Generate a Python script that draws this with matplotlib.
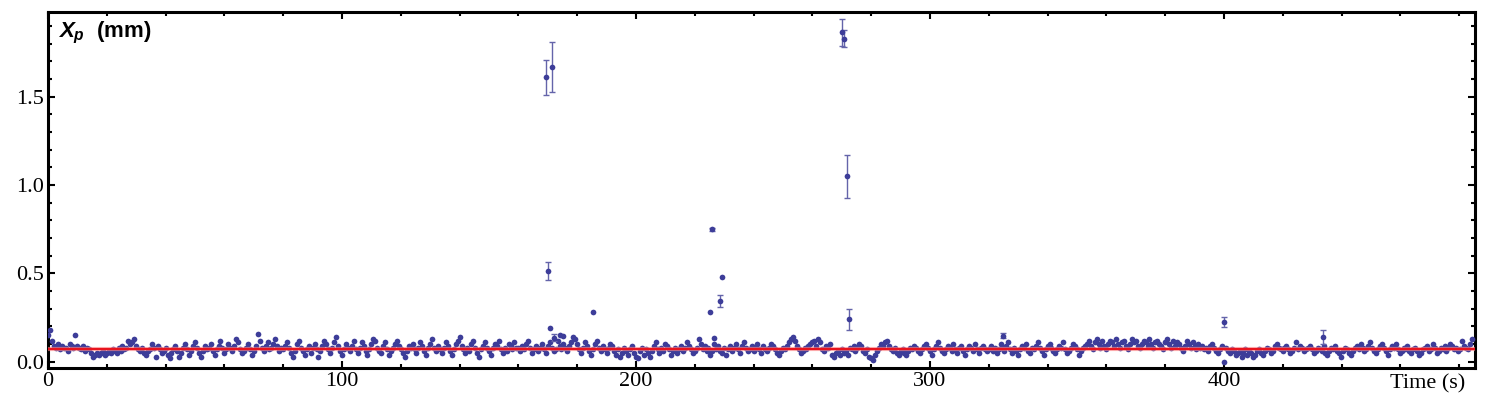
import numpy as np
import matplotlib.pyplot as plt
from matplotlib.ticker import MultipleLocator

# baseline Xp readings (hundredths of mm), one list per time window
seg_0_80 = [15, 18, 12, 9, 8, 10, 7, 9, 8, 8, 6, 10, 9, 8, 15, 9, 8, 7, 9, 6,
            8, 7, 5, 3, 4, 5, 4, 5, 6, 4, 5, 6, 5, 7, 6, 5, 8, 6, 9, 7,
            8, 12, 10, 11, 13, 9, 7, 6, 8, 5, 4, 6, 7, 10, 8, 3, 9, 7, 5, 6,
            8, 4, 2, 5, 7, 9, 6, 3, 5, 8, 10, 7, 4, 6, 9, 11, 8, 5, 3, 6,
            9, 7, 8, 10, 6, 4, 7, 9, 12, 8, 5, 7, 10, 8, 6, 9, 13, 11, 7, 5,
            6, 8, 10, 7, 4, 6, 9, 16, 12, 8, 6, 9, 11, 7, 8, 10, 13, 9, 6, 8]
seg_80_160 = [7, 9, 11, 8, 5, 3, 6, 10, 12, 8, 6, 4, 7, 9, 5, 8, 10, 7, 3, 6,
              9, 12, 10, 7, 5, 8, 11, 14, 9, 6, 4, 7, 10, 8, 6, 9, 12, 7, 5, 8,
              11, 9, 6, 4, 7, 10, 13, 12, 8, 6, 5, 9, 11, 7, 4, 6, 8, 10, 12, 9,
              7, 5, 3, 6, 9, 8, 10, 7, 5, 8, 11, 9, 6, 4, 8, 10, 13, 8, 6, 9,
              7, 5, 8, 11, 9, 6, 4, 7, 10, 12, 14, 9, 7, 5, 8, 6, 10, 12, 8, 5,
              3, 7, 9, 11, 8, 6, 4, 8, 10, 9, 12, 7, 5, 8, 6, 10, 9, 7, 11, 8]
seg_160_240 = [8, 6, 9, 7, 10, 12, 8, 5, 7, 9, 6, 8, 10, 7, 5, 9, 11, 8, 6, 7,
               12, 9, 7, 10, 8, 6, 9, 11, 14, 13, 10, 7, 5, 8, 11, 9, 6, 4, 7, 10,
               12, 8, 6, 9, 7, 5, 8, 10, 9, 6, 4, 7, 3, 5, 8, 6, 4, 7, 9, 5,
               3, 2, 6, 8, 4, 7, 5, 3, 6, 9, 11, 7, 5, 8, 6, 10, 9, 7, 4, 6,
               8, 5, 7, 9, 6, 8, 11, 9, 7, 5, 6, 8, 13, 10, 7, 9, 6, 8, 4, 6,
               10, 7, 9, 6, 5, 8, 4, 7, 9, 6, 8, 10, 7, 5, 9, 11, 8, 6, 7, 9]
seg_240_320 = [6, 8, 10, 7, 5, 9, 7, 6, 8, 10, 9, 7, 5, 4, 6, 8, 7, 9, 11, 13,
               14, 12, 9, 7, 5, 6, 8, 7, 9, 10, 11, 12, 9, 13, 11, 7, 6, 9, 8, 10,
               4, 3, 5, 6, 4, 7, 5, 6, 4, 8, 7, 9, 6, 8, 10, 9, 6, 5, 7, 3,
               2, 1, 4, 6, 8, 10, 9, 11, 12, 9, 7, 6, 8, 5, 4, 6, 7, 5, 4, 6,
               8, 7, 9, 8, 6, 5, 7, 9, 10, 8, 6, 4, 7, 9, 11, 8, 6, 5, 7, 9,
               8, 6, 10, 7, 5, 8, 9, 6, 4, 7, 9, 8, 6, 10, 7, 5, 8, 9, 7, 6]
seg_320_400 = [7, 9, 6, 8, 5, 7, 10, 8, 6, 9, 11, 7, 5, 8, 6, 4, 7, 9, 8, 10,
               6, 5, 8, 7, 9, 11, 8, 6, 4, 7, 9, 10, 8, 6, 5, 7, 9, 8, 11, 7,
               5, 6, 8, 10, 9, 7, 4, 6, 8, 9, 10, 12, 9, 7, 11, 13, 10, 8, 12, 9,
               7, 10, 12, 11, 9, 13, 10, 8, 11, 12, 9, 7, 10, 13, 11, 12, 9, 8, 10, 12,
               11, 9, 13, 10, 8, 11, 12, 10, 9, 7, 11, 13, 10, 8, 12, 9, 11, 10, 8, 6,
               9, 12, 10, 8, 11, 9, 7, 10, 8, 9, 7, 8, 6, 9, 10, 8, 6, 5, 7, 9]
seg_400_485 = [0, 8, 6, 5, 7, 6, 4, 5, 6, 3, 5, 7, 4, 6, 5, 3, 4, 6, 7, 5,
               4, 6, 8, 7, 5, 6, 9, 10, 8, 7, 6, 8, 9, 7, 5, 6, 8, 11, 7, 9,
               8, 6, 7, 8, 9, 7, 5, 6, 8, 7, 6, 9, 5, 4, 6, 8, 7, 9, 6, 5,
               3, 6, 8, 7, 5, 4, 6, 8, 9, 7, 10, 8, 6, 7, 9, 11, 8, 6, 5, 7,
               9, 10, 8, 6, 4, 7, 9, 8, 10, 7, 5, 6, 8, 7, 9, 6, 5, 7, 8, 6,
               4, 5, 7, 8, 9, 6, 7, 10, 8, 5, 6, 8, 7, 9, 6, 8, 10, 9, 7, 8,
               6, 7, 12, 9, 8, 7, 10, 13]
segments = [(0, 80, seg_0_80), (80, 160, seg_80_160), (160, 240, seg_160_240),
            (240, 320, seg_240_320), (320, 400, seg_320_400), (400, 485, seg_400_485)]

# outlying points with error bars
err_t = [169.4, 171.4, 170.0, 172.0, 226.0, 228.6, 270.0, 270.9, 271.8, 272.4, 325.0, 400.0, 433.7]
err_y = [1.61, 1.67, 0.515, 0.135, 0.75, 0.345, 1.865, 1.83, 1.05, 0.24, 0.147, 0.226, 0.14]
err_e = [0.10, 0.14, 0.05, 0.02, 0.008, 0.035, 0.075, 0.05, 0.12, 0.06, 0.015, 0.03, 0.04]
# outlying points without visible error bars
out_t = [170.7, 174.1, 175.3, 185.4, 225.2, 226.5, 229.3]
out_y = [0.19, 0.15, 0.145, 0.28, 0.28, 0.136, 0.48]

mean_xp = 0.075

t_base, y_base = [], []
for t0, t1, vals in segments:
    t_base.extend(np.linspace(t0, t1, len(vals), endpoint=False))
    y_base.extend(np.array(vals) / 100.0)

plt.rcParams['font.family'] = ['Liberation Serif', 'DejaVu Serif']
plt.rcParams['mathtext.fontset'] = 'custom'
plt.rcParams['mathtext.it'] = 'Liberation Sans:italic:bold'
plt.rcParams['mathtext.rm'] = 'Liberation Sans:bold'

fig = plt.figure(figsize=(14.85, 4.03), dpi=100)
ax = fig.add_axes([48 / 1485, 1 - 368 / 403, 1427 / 1485, 356 / 403])

dot_col = '#3d3d99'
ms = 4.1
ax.plot(t_base, y_base, 'o', ms=ms, color=dot_col, mec='none', zorder=3)
ax.plot(out_t, out_y, 'o', ms=ms, color=dot_col, mec='none', zorder=3)
ax.errorbar(err_t, err_y, yerr=err_e, fmt='o', ms=ms, color=dot_col, mec='none',
            ecolor='#6464aa', elinewidth=1.0, capsize=2.5, capthick=1.0, zorder=3)
# mean line drawn over the points
ax.axhline(mean_xp, color='#ff9090', lw=3.0, alpha=0.6, zorder=4)
ax.axhline(mean_xp, color='#e8141e', lw=1.6, zorder=4)

ax.set_xlim(0, 485.4)
ax.set_ylim(-0.035, 1.98)
ax.xaxis.set_major_locator(MultipleLocator(100))
ax.xaxis.set_minor_locator(MultipleLocator(20))
ax.yaxis.set_major_locator(MultipleLocator(0.5))
ax.yaxis.set_minor_locator(MultipleLocator(0.1))
ax.yaxis.set_major_formatter(plt.FuncFormatter(lambda v, p: f'{v:.1f}'))
ax.tick_params(which='both', direction='in', top=True, right=True, width=1.5, labelsize=16)
ax.tick_params(which='major', length=5, pad=3)
ax.tick_params(which='minor', length=3)
for s in ax.spines.values():
    s.set_linewidth(2.2)

ax.text(0.007, 0.978, r'$X_p$  (mm)', transform=ax.transAxes, ha='left', va='top',
        fontsize=16, family='Liberation Sans', fontweight='bold')
ax.text(1417 / 1427, -0.018, 'Time (s)', transform=ax.transAxes, ha='right', va='top',
        fontsize=16)

fig.savefig('out.png', dpi=100)
